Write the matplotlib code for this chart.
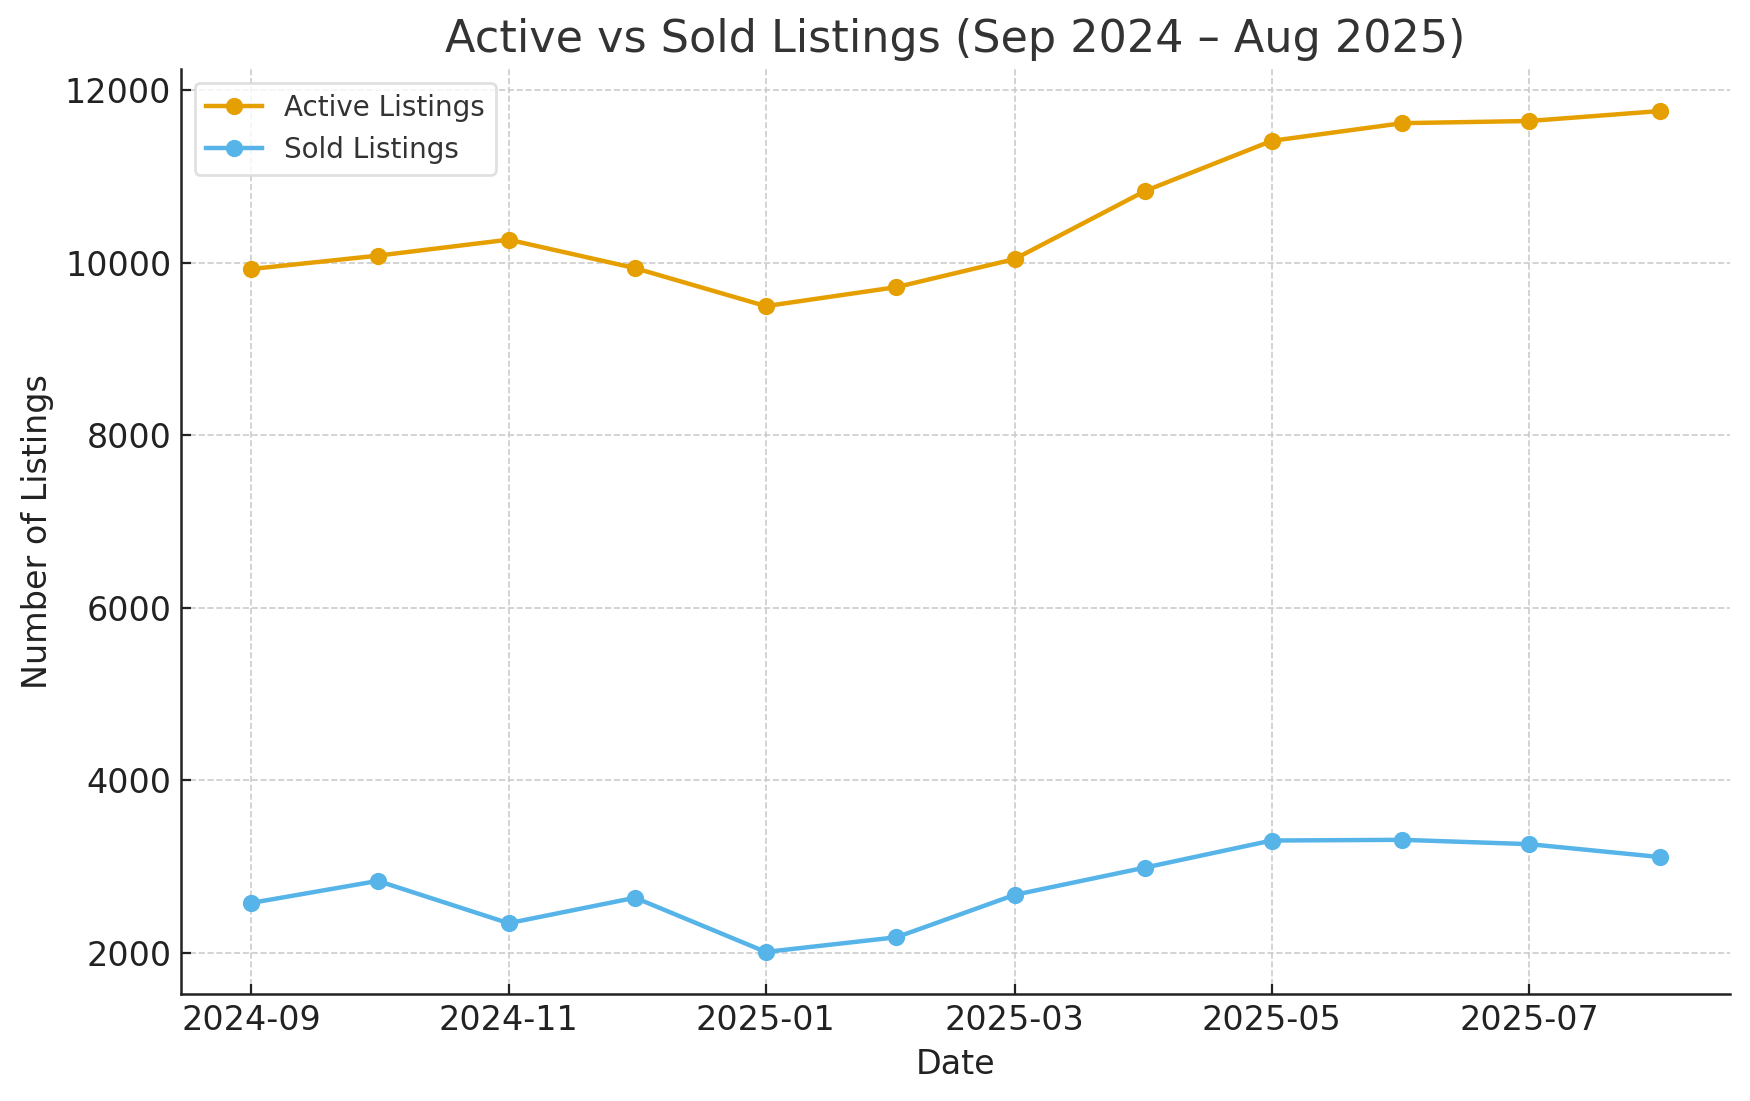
import matplotlib
matplotlib.use("Agg")
import matplotlib.pyplot as plt
import matplotlib.dates as mdates
import pandas as pd

# monthly figures
months = pd.date_range("2024-09-01", "2025-08-01", freq="MS")
active = [9925, 10080, 10265, 9935, 9495, 9715, 10040, 10830, 11410, 11615, 11640, 11755]
sold = [2580, 2835, 2345, 2640, 2012, 2182, 2673, 2990, 3303, 3311, 3261, 3112]

plt.rcParams["font.family"] = "DejaVu Sans"

fig = plt.figure(figsize=(8.75, 5.505), dpi=200)
ax = fig.add_axes([0.1034, 0.0972, 0.8852, 0.8401])

ax.plot(months, active, marker="o", color="#E69F00", linewidth=1.6, markersize=5.2, label="Active Listings")
ax.plot(months, sold, marker="o", color="#56B4E9", linewidth=1.6, markersize=5.2, label="Sold Listings")

ax.set_title("Active vs Sold Listings (Sep 2024 \u2013 Aug 2025)", fontsize=16, color="#333333")
ax.set_xlabel("Date", fontsize=12, color="#222222")
ax.set_ylabel("Number of Listings", fontsize=12, color="#222222")

ax.xaxis.set_major_locator(mdates.MonthLocator(bymonth=[1, 3, 5, 7, 9, 11]))
ax.xaxis.set_major_formatter(mdates.DateFormatter("%Y-%m"))

ax.tick_params(direction="in", labelsize=12, colors="#222222")
ax.grid(True, linestyle="--", color="#cccccc", linewidth=0.6)
ax.set_axisbelow(True)

for side in ["top", "right"]:
    ax.spines[side].set_visible(False)
for side in ["left", "bottom"]:
    ax.spines[side].set_color("#222222")
    ax.spines[side].set_linewidth(0.9)

leg = ax.legend(loc="upper left", fontsize=10, frameon=True)
leg.get_frame().set_edgecolor("#d9d9d9")
for t in leg.get_texts():
    t.set_color("#333333")

fig.savefig("out.png", dpi=200)
